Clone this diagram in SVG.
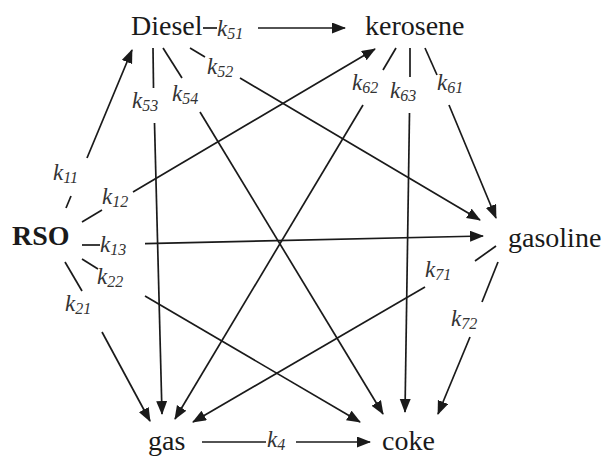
<svg xmlns="http://www.w3.org/2000/svg" width="606" height="459" viewBox="0 0 606 459">
<style>
.node{font-family:"Liberation Serif","Times New Roman",serif;font-size:28px;fill:#1a1a1a}
.bold{font-weight:bold}
.k{font-family:"Liberation Serif","Times New Roman",serif;font-style:italic;font-size:23px;fill:#333}
.sub{font-size:16px}
.e{fill:none;stroke:#1a1a1a;stroke-width:1.7}
</style>
<defs>
<marker id="arr" markerUnits="userSpaceOnUse" markerWidth="16" markerHeight="12" refX="13" refY="5.5" orient="auto">
<path d="M0,0 L14,5.5 L0,11 z" fill="#1a1a1a"/>
</marker>
</defs>
<rect width="606" height="459" fill="#fff"/>
<g id="connectors">
<g id="e51"><path class="e" d="M203,28 L217,28"/><path class="e" d="M258,28 L345,28" marker-end="url(#arr)"/></g>
<g id="e52"><path class="e" d="M190,48 L205,57"/><path class="e" d="M240,78 L480,220" marker-end="url(#arr)"/></g>
<g id="e53"><path class="e" d="M153,48 L153.5,88"/><path class="e" d="M154.5,123 L162,414" marker-end="url(#arr)"/></g>
<g id="e54"><path class="e" d="M163,48 L182,78"/><path class="e" d="M200,112 L383,414" marker-end="url(#arr)"/></g>
<g id="e11"><path class="e" d="M66,208 L71,196"/><path class="e" d="M87,158 L132,50" marker-end="url(#arr)"/></g>
<g id="e12"><path class="e" d="M82,222 L102,210"/><path class="e" d="M133,192 L375,49" marker-end="url(#arr)"/></g>
<g id="e13"><path class="e" d="M82,245 L100,245"/><path class="e" d="M145,243.6 L483,236" marker-end="url(#arr)"/></g>
<g id="e22"><path class="e" d="M82,259 L98,269"/><path class="e" d="M145,296 L360,422" marker-end="url(#arr)"/></g>
<g id="e21"><path class="e" d="M65,262 L82,291"/><path class="e" d="M102,332 L150,421" marker-end="url(#arr)"/></g>
<g id="e62"><path class="e" d="M396,48 L383,70"/><path class="e" d="M363,105 L175,419" marker-end="url(#arr)"/></g>
<g id="e63"><path class="e" d="M410,48 L410,77"/><path class="e" d="M409.5,113 L405,412" marker-end="url(#arr)"/></g>
<g id="e61"><path class="e" d="M425,48 L437,75"/><path class="e" d="M449,105 L496,218" marker-end="url(#arr)"/></g>
<g id="e71"><path class="e" d="M496,246 L475,261"/><path class="e" d="M425,287 L193,422" marker-end="url(#arr)"/></g>
<g id="e72"><path class="e" d="M498,262 L482,302"/><path class="e" d="M470,337 L438,414" marker-end="url(#arr)"/></g>
<g id="e4"><path class="e" d="M202,442 L266,442"/><path class="e" d="M296,442 L370,442" marker-end="url(#arr)"/></g>
</g>
<g id="labels">
<text class="k" x="217" y="36">k<tspan class="sub" dy="3">51</tspan></text>
<text class="k" x="207" y="74">k<tspan class="sub" dy="3">52</tspan></text>
<text class="k" x="132" y="108">k<tspan class="sub" dy="3">53</tspan></text>
<text class="k" x="172" y="101">k<tspan class="sub" dy="3">54</tspan></text>
<text class="k" x="53" y="180">k<tspan class="sub" dy="3">11</tspan></text>
<text class="k" x="102" y="204">k<tspan class="sub" dy="3">12</tspan></text>
<text class="k" x="352" y="90">k<tspan class="sub" dy="3">62</tspan></text>
<text class="k" x="390" y="98">k<tspan class="sub" dy="3">63</tspan></text>
<text class="k" x="437" y="90">k<tspan class="sub" dy="3">61</tspan></text>
<text class="k" x="100" y="252">k<tspan class="sub" dy="3">13</tspan></text>
<text class="k" x="97" y="284">k<tspan class="sub" dy="3">22</tspan></text>
<text class="k" x="65" y="311">k<tspan class="sub" dy="3">21</tspan></text>
<text class="k" x="267" y="447">k<tspan class="sub" dy="3">4</tspan></text>
<text class="k" x="425" y="277">k<tspan class="sub" dy="3">71</tspan></text>
<text class="k" x="451" y="326">k<tspan class="sub" dy="3">72</tspan></text>
</g>
<g id="node-diesel"><text class="node" x="131" y="35">Diesel</text></g>
<g id="node-kerosene"><text class="node" x="365" y="35">kerosene</text></g>
<g id="node-gasoline"><text class="node" x="508" y="247">gasoline</text></g>
<g id="node-rso"><text class="node bold" x="12" y="245">RSO</text></g>
<g id="node-gas"><text class="node" x="148" y="450">gas</text></g>
<g id="node-coke"><text class="node" x="382" y="450">coke</text></g>
</svg>
